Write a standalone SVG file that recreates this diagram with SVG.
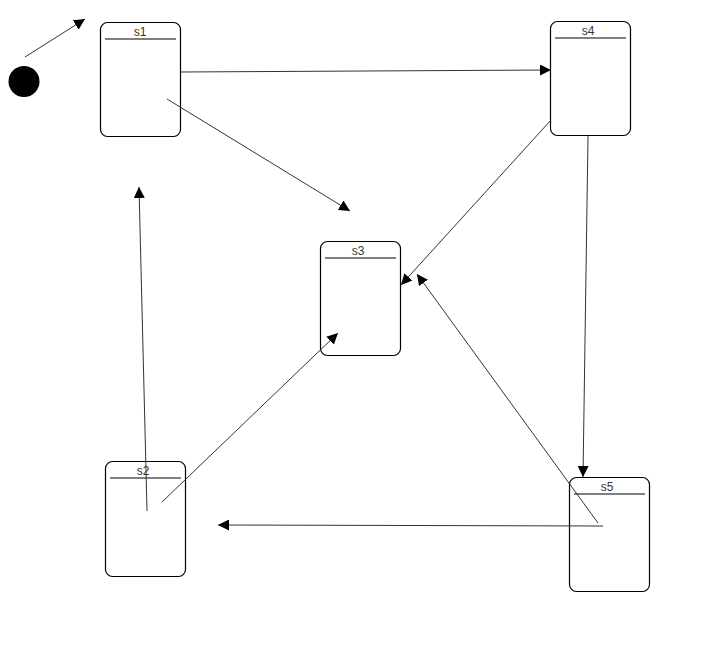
<svg xmlns="http://www.w3.org/2000/svg" width="728" height="647" viewBox="0 0 728 647">
<style>
.box{fill:#fff;stroke:#000;stroke-width:1.2}
.hd{stroke:#000;stroke-width:1.2}
.lbl{font-family:"Liberation Sans",Arial,sans-serif;font-size:12px;fill:#333;text-anchor:middle}
.edge{stroke:#333;stroke-width:1;fill:none;marker-end:url(#ah)}
</style>
<defs>
<marker id="ah" markerUnits="userSpaceOnUse" markerWidth="12" markerHeight="11" refX="11" refY="5.5" orient="auto">
<path d="M0,0 L11,5.5 L0,11 z" fill="#000"/>
</marker>
</defs>
<rect width="728" height="647" fill="#fff"/>
<g id="init"><circle cx="24" cy="81.5" r="15.5" fill="#000"/></g>
<g id="s1"><rect class="box" x="100.5" y="22.5" width="80" height="114" rx="7"/><line class="hd" x1="105" y1="39" x2="176" y2="39"/><text class="lbl" x="140" y="36">s1</text></g>
<g id="s4"><rect class="box" x="550.5" y="21.5" width="80" height="114" rx="7"/><line class="hd" x1="555" y1="38" x2="626" y2="38"/><text class="lbl" x="588" y="35">s4</text></g>
<g id="s3"><rect class="box" x="320.5" y="241.5" width="80" height="114" rx="7"/><line class="hd" x1="325" y1="258" x2="396" y2="258"/><text class="lbl" x="358" y="255">s3</text></g>
<g id="s2"><rect class="box" x="105.5" y="461.5" width="80" height="115" rx="7"/><line class="hd" x1="110" y1="478" x2="181" y2="478"/><text class="lbl" x="143" y="475">s2</text></g>
<g id="s5"><rect class="box" x="569.5" y="477.5" width="80" height="114" rx="7"/><line class="hd" x1="574" y1="494" x2="645" y2="494"/><text class="lbl" x="607" y="491">s5</text></g>
<g id="connectors">
<line class="edge" x1="25" y1="57" x2="85" y2="19"/>
<line class="edge" x1="181" y1="72" x2="551" y2="70"/>
<line class="edge" x1="167" y1="99" x2="350" y2="211"/>
<line class="edge" x1="551" y1="120" x2="401" y2="285"/>
<line class="edge" x1="588" y1="136" x2="583" y2="477"/>
<line class="edge" x1="598" y1="523" x2="417" y2="274"/>
<line class="edge" x1="603" y1="526" x2="218" y2="525"/>
<line class="edge" x1="162" y1="502" x2="338" y2="333"/>
<line class="edge" x1="147" y1="511" x2="139" y2="187"/>
</g>
</svg>
